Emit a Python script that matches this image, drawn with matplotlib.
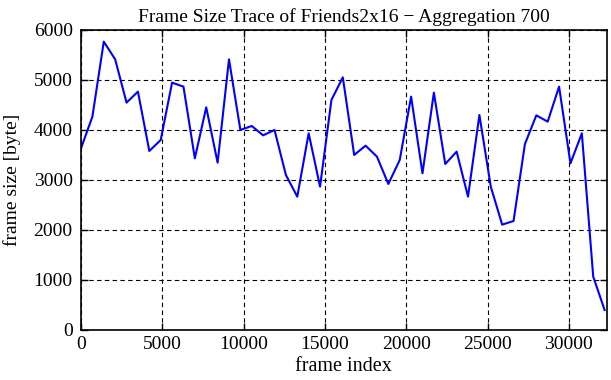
import matplotlib
matplotlib.use("Agg")
import matplotlib.pyplot as plt

# frame index of each aggregated sample (aggregation 700)
frame_index = [i * 700 for i in range(47)]
frame_size = [
    3633, 4267, 5767, 5413, 4547, 4767, 3580, 3800, 4947, 4867,
    3433, 4453, 3347, 5413, 4000, 4080, 3893, 4000, 3100, 2667,
    3933, 2867, 4600, 5053, 3500, 3687, 3467, 2920, 3400, 4667,
    3133, 4747, 3320, 3567, 2667, 4300, 2867, 2107, 2180, 3720,
    4293, 4167, 4867, 3333, 3933, 1067, 400,
]
x_ticks = [0, 5000, 10000, 15000, 20000, 25000, 30000]
y_ticks = [0, 1000, 2000, 3000, 4000, 5000, 6000]

plt.rcParams['font.family'] = ['Liberation Serif', 'DejaVu Serif']
plt.rcParams['font.size'] = 14

fig = plt.figure(figsize=(6.11, 3.80), dpi=100)
ax = fig.add_axes([0.1326, 0.1316, 0.8604, 0.7895])

ax.plot(frame_index, frame_size, color=(0, 0, 1), lw=1.5)

ax.set_xlim(0, 32330)
ax.set_ylim(0, 6000)
ax.set_xticks(x_ticks)
ax.set_yticks(y_ticks)
ax.grid(True, color='black', linestyle=(0, (4, 3)), lw=0.8)
ax.tick_params(direction='in', top=True, right=True, length=5, width=1, pad=6)
ax.tick_params(axis='x', pad=4)
for s in ax.spines.values():
    s.set_linewidth(1.2)

ax.set_title("Frame Size Trace of Friends2x16 \u2212 Aggregation 700", fontsize=14, pad=6)
ax.set_xlabel("frame index", fontsize=14.5, labelpad=3)
ax.set_ylabel("frame size [byte]", fontsize=14, labelpad=9)

fig.savefig("out.png", dpi=100)
